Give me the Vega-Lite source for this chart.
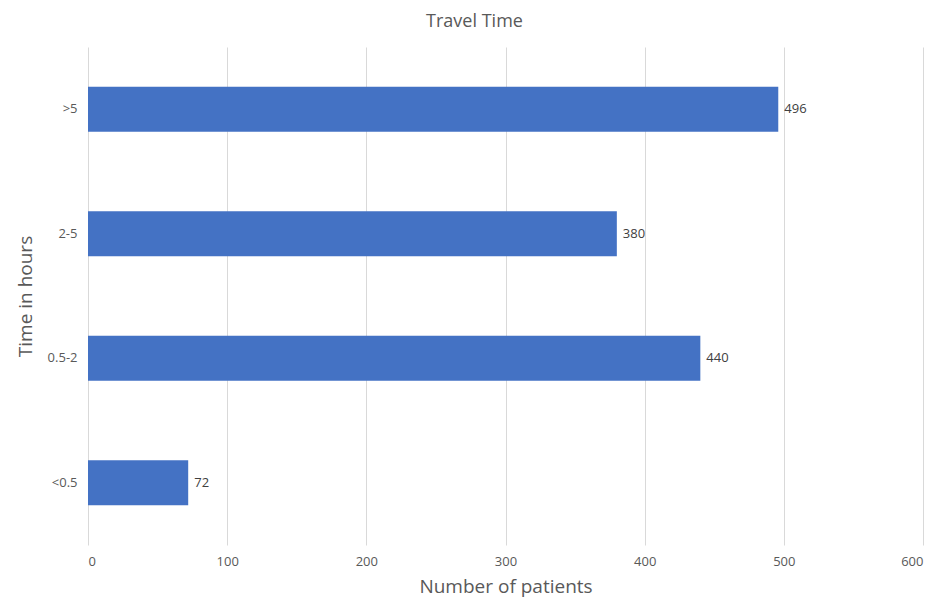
{
  "$schema": "https://vega.github.io/schema/vega-lite/v6.json",
  "width": 835,
  "height": 498,
  "autosize": {"type": "none"},
  "padding": {"left": 88, "top": 47, "right": 26, "bottom": 53},
  "background": "white",
  "title": {
    "text": "Travel Time",
    "anchor": "middle",
    "dx": -31,
    "offset": 16,
    "font": "Open Sans",
    "fontSize": 18,
    "fontWeight": "normal",
    "color": "#595959"
  },
  "config": {
    "view": {"stroke": null},
    "font": "Open Sans"
  },
  "data": {
    "values": [
      {"time": ">5", "patients": 496},
      {"time": "2-5", "patients": 380},
      {"time": "0.5-2", "patients": 440},
      {"time": "<0.5", "patients": 72}
    ]
  },
  "encoding": {
    "y": {
      "field": "time",
      "type": "nominal",
      "sort": [">5", "2-5", "0.5-2", "<0.5"],
      "scale": {"paddingInner": 0.64, "paddingOuter": 0.32},
      "axis": {
        "title": "Time in hours",
        "titleFont": "Open Sans",
        "titleFontSize": 19,
        "titleFontWeight": "normal",
        "titleColor": "#595959",
        "titlePadding": 12,
        "labelFont": "Open Sans",
        "labelFontSize": 13,
        "labelColor": "#595959",
        "labelPadding": 11,
        "domain": false,
        "ticks": false,
        "grid": false
      }
    },
    "x": {
      "field": "patients",
      "type": "quantitative",
      "scale": {"domain": [0, 600], "nice": false},
      "axis": {
        "title": "Number of patients",
        "values": [0, 100, 200, 300, 400, 500, 600],
        "titleFont": "Open Sans",
        "titleFontSize": 19,
        "titleFontWeight": "normal",
        "titleColor": "#595959",
        "titlePadding": 9,
        "labelFont": "Open Sans",
        "labelFontSize": 13,
        "labelColor": "#595959",
        "labelPadding": 10,
        "domain": false,
        "ticks": false,
        "grid": true,
        "gridColor": "#d9d9d9",
        "gridWidth": 1
      }
    }
  },
  "layer": [
    {"mark": {"type": "bar", "color": "#4472C4"}},
    {
      "mark": {"type": "text", "align": "left", "dx": 6, "font": "Open Sans", "fontSize": 13, "color": "#404040"},
      "encoding": {"text": {"field": "patients", "type": "quantitative"}}
    }
  ]
}
